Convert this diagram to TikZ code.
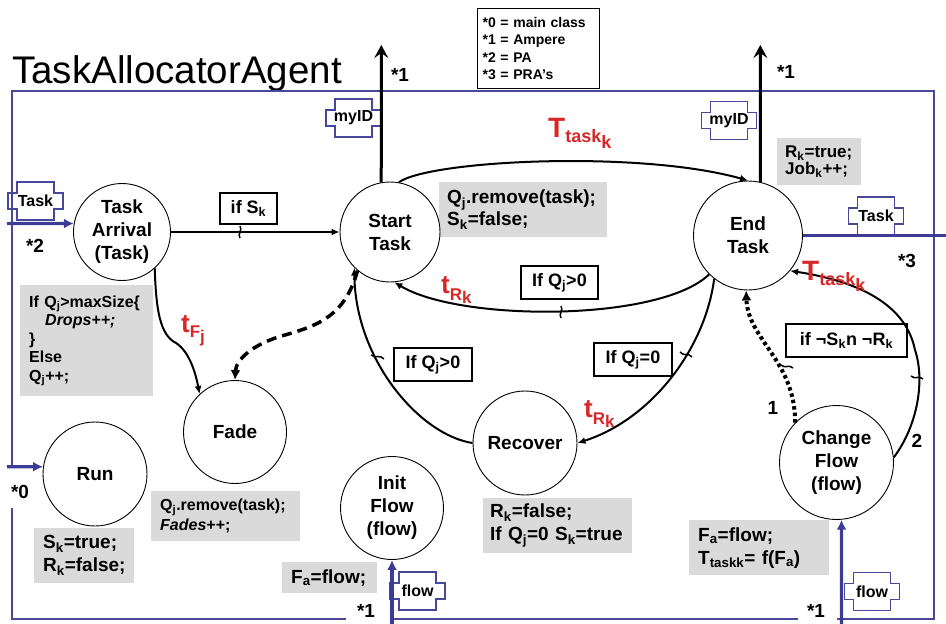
\documentclass[tikz,border=0pt]{standalone}
\usepackage{fontspec}
\setmainfont{Liberation Sans}
\usetikzlibrary{arrows.meta,calc}
\newcommand{\fs}[2]{\fontsize{#1}{#2}\selectfont}
\newcommand{\sub}[1]{\textsubscript{#1}}
\definecolor{frameblue}{RGB}{72,72,155}
\definecolor{arrowblue}{RGB}{60,60,150}
\definecolor{codegray}{RGB}{218,218,218}
\definecolor{labred}{RGB}{214,40,40}
\newcommand{\portshape}[4]{%
  \node[porttext] (#1) at (#2,#3) {#4};
  \draw[portline] ($(#1.center)+(-18.5,-19)$) -- ++(37,0) -- ++(0,11) -- ++(9,0) -- ++(0,16) -- ++(-9,0) -- ++(0,11) -- ++(-37,0) -- ++(0,-11) -- ++(-9,0) -- ++(0,-16) -- ++(9,0) -- cycle;}
\begin{document}
\begin{tikzpicture}[x=1pt,y=-1pt,
  stnode/.style={circle,draw,line width=0.9pt,fill=white,inner sep=0pt,align=center,font=\bfseries\fs{19}{23}},
  code/.style={fill=codegray,anchor=north west,inner xsep=9pt,inner ysep=0pt,align=left,font=\bfseries\fs{19}{23}},
  cond/.style={draw,line width=1.1pt,fill=white,inner sep=0pt,font=\bfseries\fs{18}{20}},
  porttext/.style={inner sep=0pt,font=\bfseries\fs{16}{18}},
  portline/.style={draw=frameblue,line width=1.3pt},
  lbl/.style={inner sep=0pt,font=\bfseries\fs{19}{21}},
  redlbl/.style={inner sep=0pt,text=labred,font=\bfseries,anchor=base west},
  trans/.style={line width=2pt,-{Latex[length=8pt,width=7pt]}},
  dashedarr/.style={line width=3.5pt,dash pattern=on 10pt off 6pt,-{Latex[length=10pt,width=10pt]}},
  dottedarr/.style={line width=4pt,dash pattern=on 3.5pt off 3pt,-{Latex[length=10pt,width=10pt]}},
  uparr/.style={line width=3pt,-{Stealth[length=13pt,width=14pt,inset=5pt]}},
  bluearr/.style={draw=arrowblue,line width=3.2pt,-{Latex[length=10pt,width=10pt]}},
  blueline/.style={draw=arrowblue,line width=3.2pt},
  tickmk/.style={line width=1.5pt}
]
\useasboundingbox (0,0) rectangle (946,624);

% title
\node[anchor=base west,inner sep=0pt,font=\fs{38.5}{40}] (title) at (12,83) {TaskAllocatorAgent};

% frame
\draw[frameblue,line width=1.3pt] (12,467) -- (12,91) -- (934,91) -- (934,619) -- (837,619)
  (798,619) -- (392,619) (346,619) -- (12,619) -- (12,508);

% legend
\node[draw,line width=1.2pt,anchor=north west,minimum width=122pt,text width=112pt,minimum height=80pt,
  inner xsep=5pt,inner ysep=0pt,align=left,font=\bfseries\fs{14}{17.3}] (legend) at (477,8)
  {\mbox{*0 = main class}\\{}*1 = Ampere\\{}*2 = PA\\{}*3 = PRA's};

% ports
\portshape{taskL}{35.5}{201}{Task}
\portshape{idL}{353.5}{118}{myID}
\portshape{idR}{729}{120.5}{myID}
\portshape{taskR}{876}{216}{Task}
\portshape{flowI}{417.5}{591}{flow}
\portshape{flowC}{872}{591.5}{flow}

% code boxes
\node[code,minimum width=133pt,text width=115pt,minimum height=111pt,font=\bfseries\fs{16}{18.5}] (arrCode) at (20,285)
  {If~Q\sub{j}>maxSize\{\\\hspace*{1em}\textit{Drops++;}\\\}\\Else\\Q\sub{j}++;};
\node[code,inner xsep=8pt,minimum width=168pt,text width=152pt,minimum height=55pt,font=\bfseries\fs{19}{22}] (startCode) at (439,182)
  {Q\sub{j}.remove(task);\\S\sub{k}=false;};
\node[code,inner xsep=8pt,minimum width=84pt,text width=68pt,minimum height=47pt,font=\bfseries\fs{17}{17.5}] (endCode) at (777,138)
  {R\sub{k}=true;\\Job\sub{k}++;};
\node[code,minimum width=149pt,text width=131pt,minimum height=50pt,font=\bfseries\fs{16}{20}] (fadeCode) at (151,491)
  {Q\sub{j}.remove(task);\\\textit{Fades}++;};
\node[code,minimum width=100pt,text width=82pt,minimum height=55pt] (runCode) at (34,528)
  {S\sub{k}=true;\\R\sub{k}=false;};
\node[code,minimum width=95pt,text width=77pt,minimum height=31pt] (initCode) at (282,562)
  {F\sub{a}=flow;};
\node[code,inner xsep=7pt,minimum width=149pt,text width=135pt,minimum height=55pt] (recCode) at (483,498)
  {R\sub{k}=false;\\\mbox{If Q\sub{j}=0 S\sub{k}=true}};
\node[code,minimum width=140pt,text width=122pt,minimum height=55pt] (chgCode) at (689,520)
  {F\sub{a}=flow;\\\mbox{T\sub{taskk}= f(F\sub{a})}};

% states
\node[stnode,minimum size=97pt] (arrival) at (122,232) {Task\\Arrival\\(Task)};
\node[stnode,minimum size=100pt] (start) at (390,232) {Start\\Task};
\node[stnode,minimum size=109pt] (endT) at (748,235.5) {End\\Task};
\node[stnode,minimum size=103pt] (fade) at (235,432) {Fade};
\node[stnode,minimum size=104pt] (run) at (95,474) {Run};
\node[stnode,minimum size=103pt] (init) at (392,508) {Init\\Flow\\(flow)};
\node[stnode,minimum size=104pt] (recover) at (525,443) {Recover};
\node[stnode,minimum size=114pt] (change) at (836.5,462.5) {Change\\Flow\\(flow)};

% condition boxes
\node[cond,minimum width=57pt,minimum height=31pt] (cSk) at (248.5,208.5) {if S\sub{k}};
\node[cond,minimum width=78pt,minimum height=33pt] (cQa) at (433,364.5) {If Q\sub{j}>0};
\node[cond,minimum width=77pt,minimum height=33pt] (cQb) at (559.5,282.5) {If Q\sub{j}>0};
\node[cond,minimum width=78pt,minimum height=33pt] (cQz) at (633,359.5) {If Q\sub{j}=0};
\node[cond,minimum width=121pt,minimum height=33pt] (cSR) at (846.5,340.5) {if ¬S\sub{k}n ¬R\sub{k}};

% outer coordinates
\coordinate (inTask) at (7,223.6);
\coordinate (inRun) at (7,466.8);
\coordinate (inInit) at (392,624);
\coordinate (inChg) at (841.5,624);
\coordinate (outPRA) at (946,235.5);
\coordinate (sUp) at (381.3,45);
\coordinate (eUp) at (760.3,45);

% blue connectors
\draw[bluearr] (inTask) -- (arrival.170);
\draw[bluearr] (inRun) -- (run.172);
\draw[bluearr] (inInit) -- (init.south);
\draw[bluearr] (inChg) -- (change.-85);
\draw[blueline] (endT.east) -- (outPRA);

% up arrows
\draw[uparr] (start.100) -- (sUp);
\draw[uparr] (endT.77) -- (eUp);

% transitions
\draw[trans] (arrival) -- (start);
\draw[trans] (arrival.-48) .. controls (156,310) and (160,335) .. (176,343) .. controls (190,352) and (196,375) .. (fade.133);
\draw[dashedarr] (start.-130) .. controls (345,315) and (320,325) .. (285,335) .. controls (252,344) and (236,360) .. (fade.north);
\draw[trans] (start.80) .. controls (430,160) and (640,150) .. (endT.north);
\draw[trans] (endT.-135) .. controls (660,322) and (460,322) .. (start.-85);
\draw[trans] (recover.west) .. controls (420,435) and (355,360) .. (start.-135);
\draw[trans] (endT.-128) .. controls (705,350) and (650,420) .. (recover.east);
\draw[dottedarr] (change.136) .. controls (795,360) and (748,340) .. (endT.-92);
\draw[trans] (change.5) .. controls (918,425) and (925,380) .. (915,350) .. controls (905,300) and (850,280) .. (endT.-40);

% ticks
\draw[tickmk] (240,226) .. controls (243,230) and (237,234) .. (240,238);
\draw[tickmk] (561,306) .. controls (564,310) and (558,314) .. (561,318);
\draw[tickmk] (371,355) .. controls (375,359) and (380,354) .. (384,359);
\draw[tickmk] (680,352) .. controls (684,357) and (688,352) .. (692,357);
\draw[tickmk] (781,365) .. controls (785,369) and (789,364) .. (793,368);
\draw[tickmk] (911,376) .. controls (915,380) and (919,375) .. (923,379);

% labels
\node[lbl] (s1a) at (400,75) {*1};
\node[lbl] (s1b) at (786,72) {*1};
\node[lbl] (s2) at (35,246) {*2};
\node[lbl] (s3) at (907,261) {*3};
\node[lbl] (s0) at (20,492) {*0};
\node[lbl] (s1c) at (366,611) {*1};
\node[lbl] (s1d) at (816,611) {*1};
\node[lbl] (one) at (773,408) {1};
\node[lbl] (two) at (917,441) {2};

% red labels
\node[redlbl] (tTop) at (548,137) {\fs{28}{28}T\raisebox{-5pt}{\fs{18}{18}task\raisebox{-6pt}{k}}};
\node[redlbl] (tRight) at (802,280) {\fs{28}{28}T\raisebox{-5pt}{\fs{18}{18}task\raisebox{-6pt}{k}}};
\node[redlbl] (tRs) at (441,293) {\fs{26}{26}t\raisebox{-7pt}{\fs{17}{17}R\raisebox{-3pt}{k}}};
\node[redlbl] (tRr) at (584,417) {\fs{26}{26}t\raisebox{-7pt}{\fs{17}{17}R\raisebox{-3pt}{k}}};
\node[redlbl] (tFj) at (181,332) {\fs{26}{26}t\raisebox{-5pt}{\fs{17}{17}F\raisebox{-5pt}{j}}};
\end{tikzpicture}
\end{document}
